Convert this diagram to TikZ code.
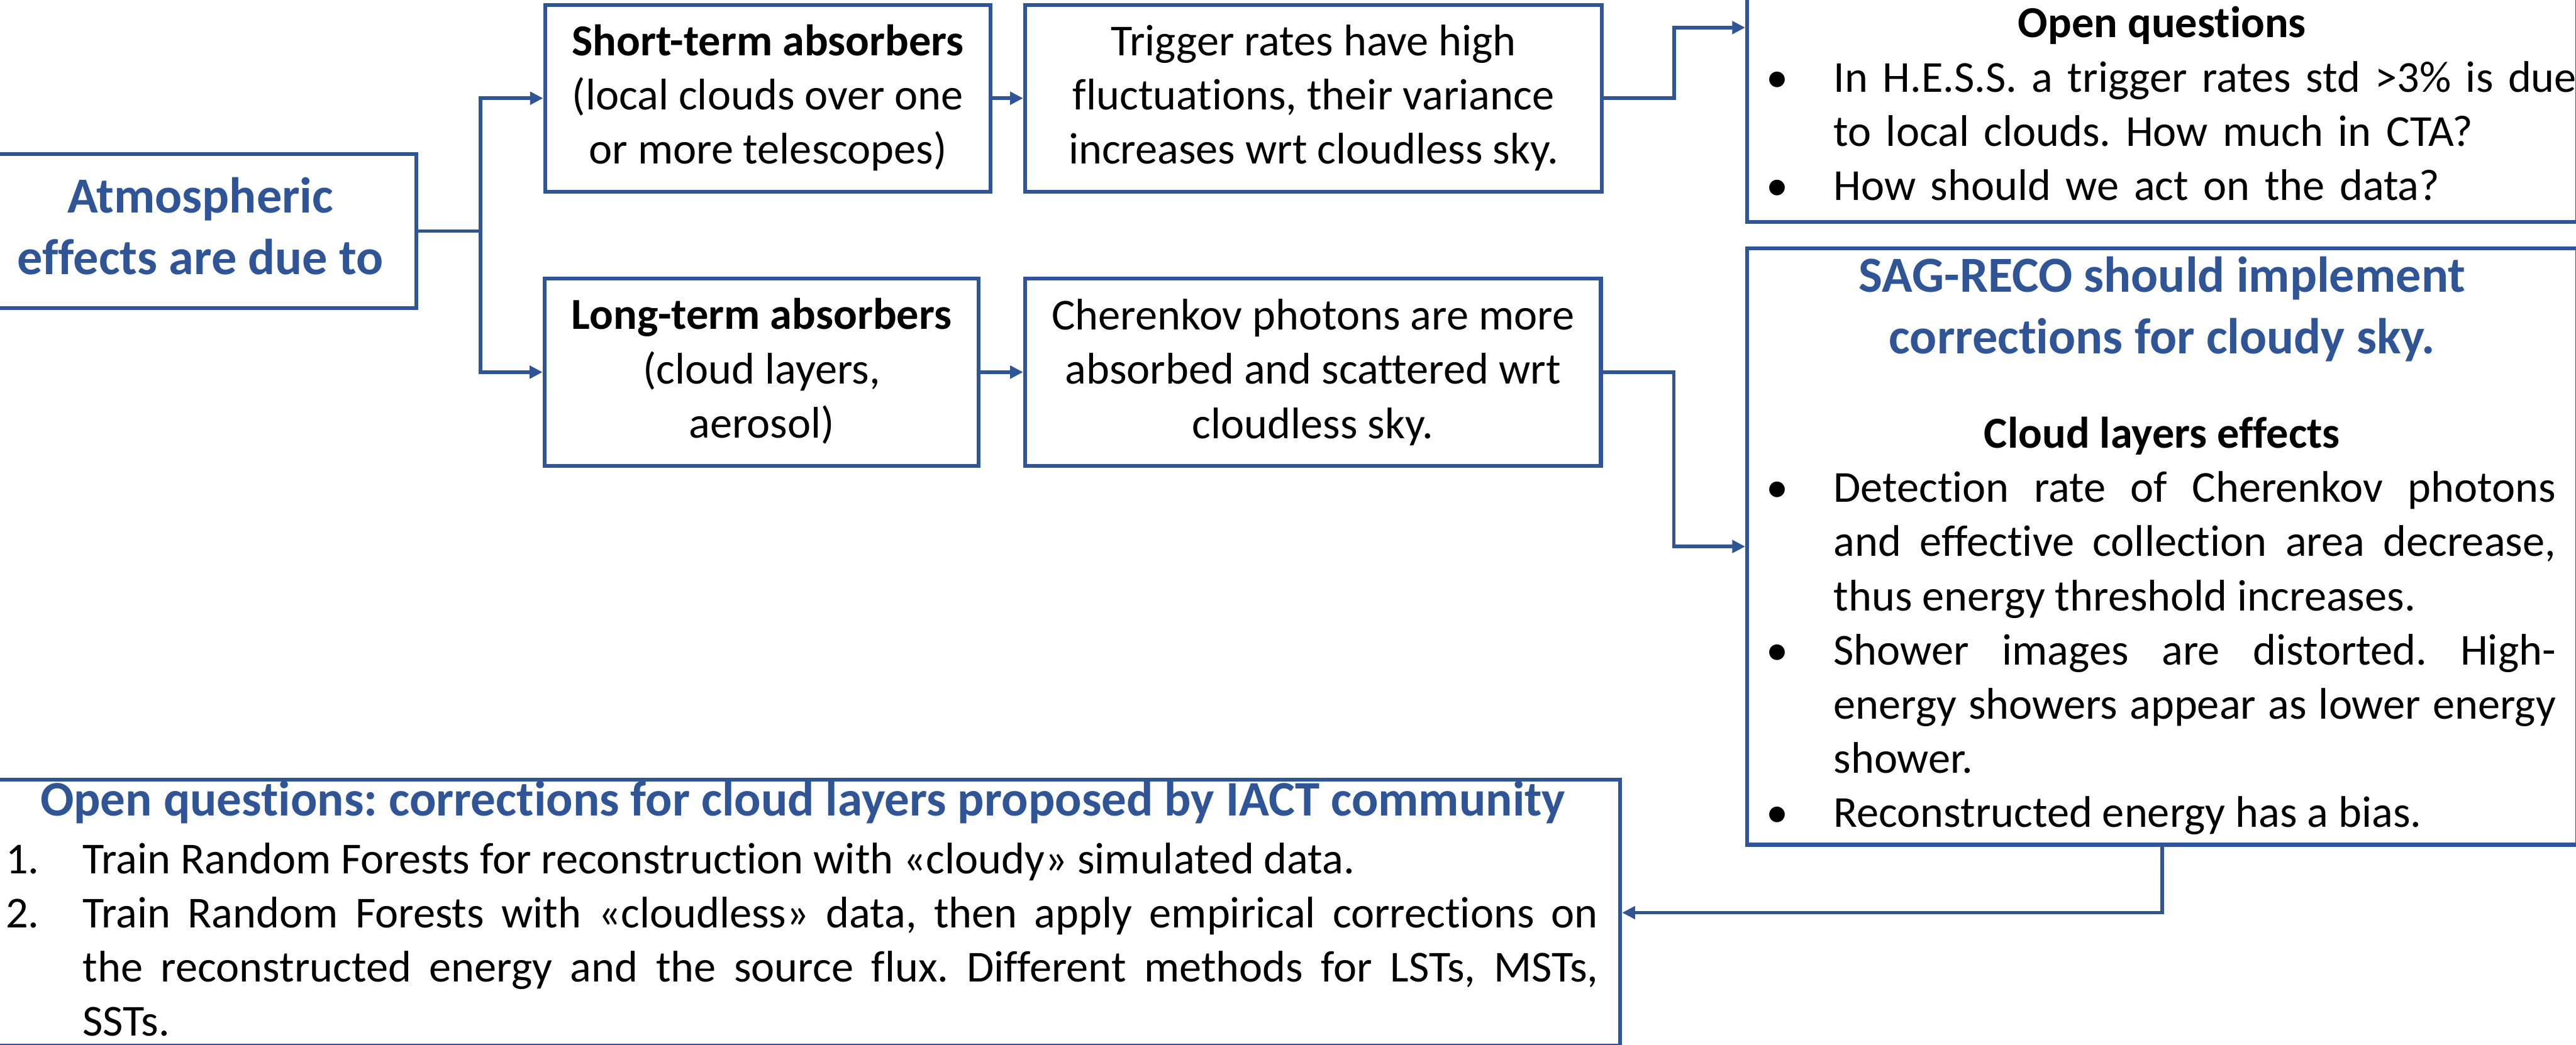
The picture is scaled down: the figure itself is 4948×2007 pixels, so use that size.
\documentclass[tikz,border=0pt]{standalone}
\usepackage{fontspec}
\setmainfont{Carlito}[Ligatures=NoCommon]
\usetikzlibrary{arrows.meta,fit,calc}
\definecolor{accent}{RGB}{47,85,151}
\frenchspacing
\newcommand\fbody{\fontsize{17pt}{20.8pt}\selectfont\frenchspacing}
\newcommand\ftitle{\fontsize{19.4pt}{23.7pt}\selectfont\bfseries\frenchspacing}
\newcommand\fwide{\fontsize{19.1pt}{23.7pt}\selectfont\bfseries\frenchspacing}
\newcommand\bul{\leavevmode\llap{\makebox[43.2pt][c]{•}}}
\newcommand\numlab[1]{\leavevmode\llap{\makebox[29.6pt][l]{#1}}}
\tikzset{
  box/.style={draw=accent, line width=1.5pt, inner sep=0pt},
  conn/.style={draw=accent, line width=1.4pt},
  arr/.style={conn, -{Triangle[length=5pt,width=4.8pt]}},
  txt/.style={anchor=north, inner sep=0pt, align=center, font=\fbody},
  ttl/.style={anchor=north, inner sep=0pt, align=center, font=\ftitle, text=accent},
  lst/.style={anchor=north west, inner sep=0pt, font=\fbody},
}
\begin{document}
\begin{tikzpicture}[x=0.2pt, y=-0.2pt]
\useasboundingbox (0,0) rectangle (4948,2007);

% boxes
\node[box, fit={(-30,296) (800,592)}] (atm) {};
\node[box, fit={(1047,9.5) (1903,368)}] (short) {};
\node[box, fit={(1969,9.5) (3077,368)}] (trig) {};
\node[box, fit={(1046,535) (1880,895)}] (long) {};
\node[box, fit={(1969,535) (3075,895)}] (cher) {};
\node[box, fit={(3356,-20) (4950,426.5)}] (open) {};
\node[box, fit={(3356,477) (4950,1623)}] (sag) {};
\node[box, fit={(-30,1498) (3112,2009)}] (bot) {};

% texts
\node[ttl] (atmtxt) at (385,325) {\strut Atmospheric\\effects are due to};
\node[txt] (shorttxt) at (1475,33.2) {\strut\textbf{Short-term absorbers}\\(local clouds over one\\or more telescopes)};
\node[txt] (trigtxt) at (2523,33.2) {\strut Trigger rates have high\\fluctuations, their variance\\increases wrt cloudless sky.};
\node[txt] (longtxt) at (1463,559.2) {\strut\textbf{Long-term absorbers}\\(cloud layers,\\aerosol)};
\node[txt] (chertxt) at (2522,560.2) {\strut Cherenkov photons are more\\absorbed and scattered wrt\\cloudless sky.};

\node[txt] (opentitle) at (4153,-1.8) {\strut\textbf{Open questions}};
\node[lst, text width=300pt, align=left] (openlist) at (3521,103.2)
  {\strut\bul In H.E.S.S. a trigger rates std >3\% is due\\to local clouds. How much in CTA?\par
   \bul How should we act on the data?};

\node[ttl] (sagtitle) at (4153,477.05) {\strut SAG-RECO should implement\\corrections for cloudy sky.};
\node[txt] (cloudtitle) at (4153,787.2) {\strut\textbf{Cloud layers effects}};
\node[lst, text width=277.4pt, align=justify] (saglist) at (3521,891.2)
  {\strut\bul Detection rate of Cherenkov photons \linebreak and effective collection area decrease, \linebreak thus energy threshold increases.\par
   \bul Shower images are distorted. High-\linebreak energy showers appear as lower energy \linebreak shower.\par
   \bul Reconstructed energy has a bias.};

\node[ttl, font=\fwide] (bottitle) at (1542,1484) {\strut Open questions: corrections for cloud layers proposed by IACT community};
\node[lst, text width=582.2pt, align=justify] (botlist) at (158,1604.2)
  {\strut\numlab{1.}Train Random Forests for reconstruction with «cloudy» simulated data.\par
   \numlab{2.}Train Random Forests with «cloudless» data, then apply empirical corrections on \linebreak the reconstructed energy and the source flux. Different methods for LSTs, MSTs, \linebreak SSTs.};

% connectors
\coordinate (split) at (923,444);
\coordinate (up) at (3216,53);
\coordinate (down) at (3215,715);
\draw[conn] (atm.east) -- (split);
\draw[arr] (split) |- (short.west);
\draw[arr] (split) |- (long.west);
\draw[arr] (short.east) -- (trig.west);
\draw[arr] (long.east) -- (cher.west);
\draw[arr] (trig.east) -| (up) -- (up -| open.west);
\draw[arr] (cher.east) -- (down) |- (sag.west);
\draw[arr] (sag.south) |- (bot.east);
\end{tikzpicture}
\end{document}
